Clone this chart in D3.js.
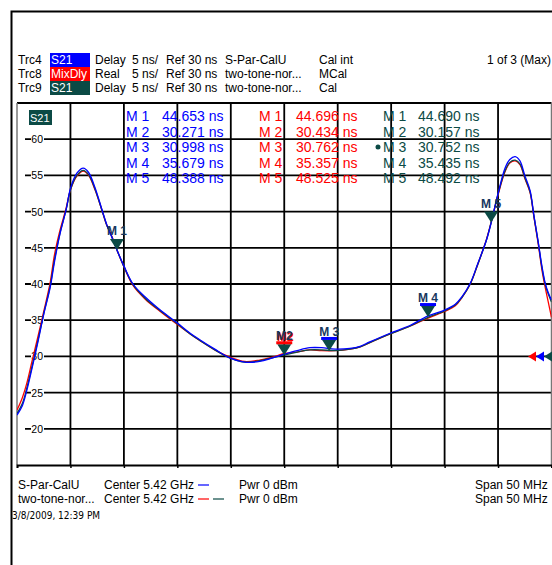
<!DOCTYPE html>
<html>
<head>
<meta charset="utf-8">
<script src="https://cdn.jsdelivr.net/npm/d3@7"></script>
<style>
  body { margin: 0; background: #fff; }
  svg text { font-family: "Liberation Sans", Arial, sans-serif; }
</style>
</head>
<body>
<div id="chart"></div>
<script>
// frequency offset from 5.42 GHz centre, in MHz
var freq = [-25, -24.5, -24.1, -23.6, -23, -22.5, -21.9, -21.5, -21, -20.4, -20, -19.4, -18.8, -18.3, -17.7, -17.1,
  -16.6, -16.1, -15.65, -15, -14.15, -13, -11.6, -10, -8.8, -7.9, -6.5, -5.1, -3.7, -2.3, -1.1, 0, 1.2, 2.4, 3.5,
  4.75, 6.15, 7.1, 8, 9.9, 11.8, 13.45, 15, 16, 16.6, 17.4, 18.1, 18.9, 19.35, 20, 20.65, 21.1, 21.6, 22.05, 22.5,
  23, 23.35, 23.75, 24.1, 24.4, 24.7, 25];

// group delay in ns
var trc4 = [21.9, 23.2, 25.2, 28.3, 32.3, 35.8, 39.5, 43.0, 46.8, 50.3, 53.2, 55.3, 56.0, 55.4, 53.3, 50.5,
  48.2, 46.4, 44.7, 42.5, 40.0, 38.2, 36.4, 34.6, 33.2, 32.3, 31.0, 29.8, 29.2, 29.3, 29.8, 30.3, 30.8, 31.2, 31.2,
  31.0, 31.1, 31.4, 32.0, 33.2, 34.3, 35.6, 36.4, 37.2, 38.2, 40.1, 42.8, 46.0, 48.4, 52.5, 56.0, 57.2, 57.6, 57.0, 55.0,
  52.9, 49.5, 45.9, 42.5, 40.2, 38.8, 37.8];
var trc8 = [22.6, 24.3, 26.2, 29.3, 33.0, 36.2, 40.2, 44.0, 47.3, 50.5, 53.0, 54.9, 55.6, 55.0, 53.0, 50.4,
  48.1, 46.5, 44.7, 42.4, 39.8, 37.9, 36.2, 34.4, 33.1, 32.2, 30.9, 29.9, 29.3, 29.5, 29.9, 30.4, 30.6, 30.9, 30.8,
  30.8, 31.0, 31.3, 31.9, 33.1, 34.2, 35.3, 36.2, 37.0, 38.1, 40.0, 42.7, 46.1, 48.5, 52.3, 55.5, 56.7, 57.0, 56.5, 54.6,
  52.6, 49.3, 45.6, 42.0, 39.6, 37.5, 35.4];
var trc9 = [22.1, 23.5, 25.5, 28.6, 32.5, 35.9, 39.7, 43.3, 46.9, 50.3, 53.0, 55.0, 55.7, 55.1, 53.1, 50.4,
  48.1, 46.4, 44.7, 42.4, 39.9, 38.0, 36.3, 34.5, 33.1, 32.2, 30.9, 29.8, 29.2, 29.4, 29.8, 30.2, 30.6, 30.9, 30.9,
  30.8, 31.0, 31.3, 31.9, 33.1, 34.2, 35.4, 36.3, 37.1, 38.1, 40.0, 42.7, 46.0, 48.5, 52.4, 55.6, 56.8, 57.1, 56.6, 54.7,
  52.7, 49.4, 45.8, 42.3, 40.0, 38.6, 37.5];

var yTicks = [20, 25, 30, 35, 40, 45, 50, 55, 60];

var markerNames = ["M 1", "M 2", "M 3", "M 4", "M 5"];
var markerFreq = [-15.65, 0, 4.2, 13.45, 19.35];
var mk4 = ["44.653", "30.271", "30.998", "35.679", "48.388"];
var mk8 = ["44.696", "30.434", "30.762", "35.357", "48.525"];
var mk9 = ["44.690", "30.157", "30.752", "35.435", "48.492"];

var BLUE = "#0000ff", RED = "#ff0000", TEAL = "#0b4a45", NAVY = "#17375e";

var W = 552, H = 565;
var plot = {left: 17, right: 551.5, top: 103, bottom: 465};

var svg = d3.select("#chart").append("svg")
    .attr("width", W).attr("height", H);

var x = d3.scaleLinear().domain([-25, 25]).range([plot.left, plot.right]);
var y = d3.scaleLinear().domain([15, 65]).range([plot.bottom, plot.top]);

// outer frame
svg.append("path").attr("d", "M11.5,565 V11.5 H552")
    .attr("fill", "none").attr("stroke", "#000").attr("stroke-width", 2);

// header lines
var hdr = svg.append("g").attr("font-size", 12).attr("fill", "#000");
var rows = [
  {trc: "Trc4", badge: "S21", bg: BLUE, fmt: "Delay", cal: "S-Par-CalU", st: "Cal int"},
  {trc: "Trc8", badge: "MixDly", bg: RED, fmt: "Real", cal: "two-tone-nor...", st: "MCal"},
  {trc: "Trc9", badge: "S21", bg: TEAL, fmt: "Delay", cal: "two-tone-nor...", st: "Cal"}
];
rows.forEach(function(r, i) {
  var by = 64 + i * 14;
  hdr.append("text").attr("x", 18).attr("y", by).text(r.trc);
  hdr.append("rect").attr("x", 50).attr("y", by - 11).attr("width", 40).attr("height", 14).attr("fill", r.bg);
  hdr.append("text").attr("x", 51).attr("y", by).attr("fill", "#fff").text(r.badge);
  hdr.append("text").attr("x", 95).attr("y", by).text(r.fmt);
  hdr.append("text").attr("x", 132).attr("y", by).text("5 ns/");
  hdr.append("text").attr("x", 166).attr("y", by).text("Ref 30 ns");
  hdr.append("text").attr("x", 225).attr("y", by).text(r.cal);
  hdr.append("text").attr("x", 319).attr("y", by).text(r.st);
});
hdr.append("text").attr("x", 551).attr("y", 64).attr("text-anchor", "end").text("1 of 3 (Max)");

// grid
var grid = svg.append("g");
grid.selectAll("line.h").data(d3.range(20, 65, 5)).enter().append("line")
    .attr("x1", 25).attr("x2", plot.right)
    .attr("y1", function(d) { return y(d); }).attr("y2", function(d) { return y(d); })
    .attr("stroke", "#000").attr("stroke-width", 1.8);
grid.append("line").attr("x1", plot.left).attr("x2", plot.right)
    .attr("y1", plot.top).attr("y2", plot.top).attr("stroke", "#000").attr("stroke-width", 1.8);
grid.selectAll("line.v").data(d3.range(-20, 25, 5)).enter().append("line")
    .attr("x1", function(d) { return x(d); }).attr("x2", function(d) { return x(d); })
    .attr("y1", plot.top).attr("y2", plot.bottom)
    .attr("stroke", "#000").attr("stroke-width", 1.8);
[plot.left, plot.right].forEach(function(px) {
  grid.append("line").attr("x1", px).attr("x2", px).attr("y1", plot.top).attr("y2", plot.bottom)
      .attr("stroke", "#777").attr("stroke-width", 1.5);
});

// bottom axis with short ticks
svg.append("g")
    .attr("transform", "translate(0," + plot.bottom + ")")
    .call(d3.axisBottom(x).tickValues(d3.range(-25, 26, 5)).tickSize(3).tickFormat(""))
    .call(function(g) {
      g.select(".domain").attr("stroke", "#000").attr("stroke-width", 1.8);
      g.selectAll(".tick line").attr("stroke", "#000").attr("stroke-width", 1.5);
    });

// y labels with knocked-out background
var yl = svg.append("g").attr("font-size", 10.5);
yTicks.forEach(function(v) {
  yl.append("rect").attr("x", 31).attr("y", y(v) - 6).attr("width", 13).attr("height", 11).attr("fill", "#fff");
  yl.append("text").attr("x", 43).attr("y", y(v) + 4).attr("text-anchor", "end").attr("fill", "#000").text(v);
});

// S21 badge inside plot
svg.append("rect").attr("x", 29).attr("y", 110).attr("width", 23).attr("height", 15).attr("fill", TEAL);
svg.append("text").attr("x", 30).attr("y", 122).attr("font-size", 11).attr("fill", "#fff").text("S21");

// marker tables
function table(vals, col, nx, vx) {
  var g = svg.append("g").attr("font-size", 14).attr("fill", col);
  vals.forEach(function(v, i) {
    var by = 121 + i * 15.5;
    g.append("text").attr("x", nx).attr("y", by).text(markerNames[i]);
    g.append("text").attr("x", vx).attr("y", by).text(v + " ns");
  });
}
table(mk4, BLUE, 126, 162);
table(mk8, RED, 259, 296);
table(mk9, TEAL, 383, 418);
svg.append("circle").attr("cx", 378).attr("cy", 147).attr("r", 2.5).attr("fill", TEAL);

// traces
var line = d3.line()
    .x(function(d) { return x(d[0]); })
    .y(function(d) { return y(d[1]); })
    .curve(d3.curveCatmullRom.alpha(0.5));
var clip = svg.append("clipPath").attr("id", "pc").append("rect")
    .attr("x", plot.left).attr("y", plot.top).attr("width", plot.right - plot.left).attr("height", plot.bottom - plot.top);
var traces = svg.append("g").attr("clip-path", "url(#pc)");
[[trc8, RED], [trc9, TEAL], [trc4, BLUE]].forEach(function(t) {
  traces.append("path")
      .datum(d3.zip(freq, t[0]))
      .attr("d", line)
      .attr("fill", "none").attr("stroke", t[1]).attr("stroke-width", 1.3);
});

// markers
var bars = [null, RED, BLUE, BLUE, null];
var mg = svg.append("g");
markerFreq.forEach(function(f, i) {
  var px = x(f), py = y(+mk9[i]);
  mg.append("path")
      .attr("d", "M" + (px - 7) + "," + (py - 11) + " L" + (px + 7) + "," + (py - 11) + " L" + px + "," + py + " Z")
      .attr("fill", TEAL);
  if (bars[i]) {
    mg.append("rect").attr("x", px - 8).attr("y", py - 14).attr("width", 16).attr("height", 3).attr("fill", bars[i]);
  }
  if (i === 1) {
    mg.append("text").attr("x", px + 1).attr("y", py - 14).attr("text-anchor", "middle")
        .attr("font-size", 12).attr("font-weight", "bold").attr("fill", RED).text("M2");
  }
  mg.append("text").attr("x", px).attr("y", py - 15).attr("text-anchor", "middle")
      .attr("font-size", 12).attr("font-weight", "bold").attr("fill", NAVY)
      .text(i === 1 ? "M2" : markerNames[i]);
});

// reference level arrows (Ref 30 ns)
var ry = y(30);
[[RED, 536], [BLUE, 544], [TEAL, 552]].forEach(function(a) {
  svg.append("path")
      .attr("d", "M" + (a[1] - 8) + "," + ry + " L" + a[1] + "," + (ry - 5) + " L" + a[1] + "," + (ry + 5) + " Z")
      .attr("fill", a[0]);
});

// footer
var ft = svg.append("g").attr("font-size", 12).attr("fill", "#000");
[["S-Par-CalU", [BLUE]], ["two-tone-nor...", [RED, TEAL]]].forEach(function(r, i) {
  var by = 489 + i * 14;
  ft.append("text").attr("x", 18).attr("y", by).text(r[0]);
  ft.append("text").attr("x", 104).attr("y", by).text("Center  5.42 GHz");
  r[1].forEach(function(c, j) {
    ft.append("line").attr("x1", 198 + j * 15).attr("x2", 209 + j * 15)
        .attr("y1", by - 4).attr("y2", by - 4).attr("stroke", c).attr("stroke-width", 1.2);
  });
  ft.append("text").attr("x", 239).attr("y", by).text("Pwr  0 dBm");
  ft.append("text").attr("x", 475).attr("y", by).text("Span  50 MHz");
});
svg.append("text").attr("x", 12).attr("y", 519).attr("font-size", 10)
    .style("font-family", "'DejaVu Sans Condensed', 'DejaVu Sans', sans-serif")
    .attr("fill", "#000").text("3/8/2009, 12:39 PM");
</script>
</body>
</html>
